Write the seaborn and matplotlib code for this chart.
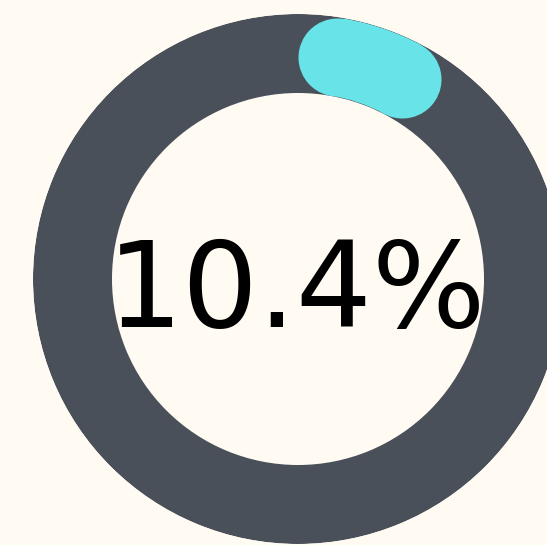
import numpy as np
import matplotlib
matplotlib.use("Agg")
import matplotlib.pyplot as plt
import seaborn as sns

# data
value_pct = [10.4]
label = ["10.4%"]

BG = "#fffbf3"
RING = "#4a5059"
ARC = "#68e3e8"

sns.set_theme(style="white")
plt.rcParams['font.family'] = ['DejaVu Sans']

W, H, DPI = 547, 545, 100
fig = plt.figure(figsize=(W / DPI, H / DPI), dpi=DPI, facecolor=BG)

cx, cy = 298, 279          # center in pixels (from top-left)
R_out, R_in = 265, 186
ax = fig.add_axes([(cx - R_out) / W, (H - cy - R_out) / H, 2 * R_out / W, 2 * R_out / H],
                  projection="polar")
ax.set_theta_zero_location("N")
ax.set_theta_direction(-1)
ax.set_ylim(0, R_out)
ax.set_facecolor(BG)
ax.axis("off")

# background ring
ax.bar([0], [R_out - R_in], width=2 * np.pi, bottom=R_in, color=RING, linewidth=0, align="edge")

# progress arc with rounded caps
r_mid = (R_out + R_in) / 2
half_w = 39
cap = half_w / r_mid
total = value_pct[0] / 100 * 2 * np.pi
t0, t1 = cap, total - cap
ax.bar([t0], [2 * half_w], width=t1 - t0, bottom=r_mid - half_w, color=ARC, linewidth=0, align="edge")
d_pt = 2 * half_w * 72 / DPI
ax.scatter([t0, t1], [r_mid, r_mid], s=d_pt ** 2, color=ARC, linewidths=0, zorder=3)

fig.text(296.5 / W, (H - 327) / H, label[0], ha="center", va="baseline",
         fontsize=86, color="black")

fig.savefig("out.png", dpi=DPI, facecolor=BG)
